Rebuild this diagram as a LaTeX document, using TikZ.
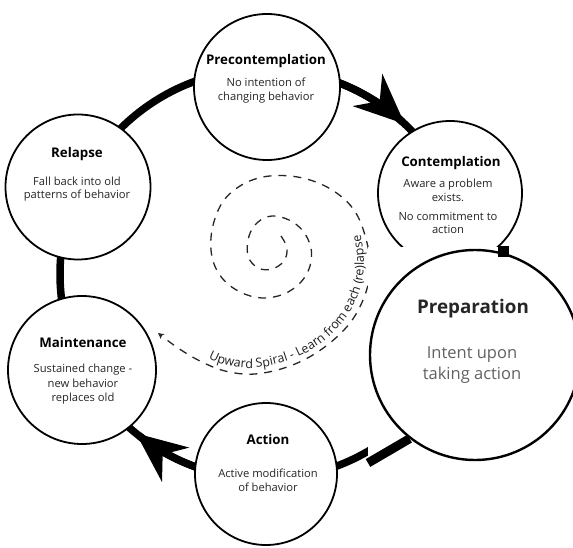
\documentclass[tikz,border=0pt]{standalone}
\usepackage{fontspec}
\setmainfont{Open Sans}
\usetikzlibrary{arrows.meta,bending,decorations.text}
\begin{document}
\begin{tikzpicture}[x=1pt,y=-1pt,
  stage/.style={circle, draw=black, line width=1.8pt, fill=white, inner sep=0pt},
  ttl/.style={anchor=base, text=black, font=\fontsize{13.3}{16}\selectfont\bfseries},
  bdy/.style={anchor=base, text=black!85, font=\fontsize{11.2}{13}\selectfont},
  ringline/.style={line width=7.5pt, draw=black},
  bigarrow/.style={ringline, -{Stealth[length=50pt,width=43pt,inset=16pt,flex]}},
  spiral/.style={line width=1.3pt, draw=black!85, dash pattern=on 8pt off 7pt},
  pttl/.style={anchor=base, text=black!85, font=\fontsize{18.8}{22}\selectfont\bfseries},
  pbdy/.style={anchor=base, text=black!62, font=\fontsize{16.5}{20}\selectfont},
  patchline/.style={line width=9pt, draw=black}]
\useasboundingbox (0,0) rectangle (573,548);
\clip (0,0) rectangle (573,548);
\fill[white] (0,0) rectangle (573,548);
% main ring
\coordinate (ringc) at (265,274);
\draw[ringline] (ringc) circle[radius=205];
\draw[bigarrow] plot[domain=290:313, samples=24] ({265+205*cos(\x)}, {274+205*sin(\x)});
\draw[bigarrow] plot[domain=105:129, samples=24] ({265+205*cos(\x)}, {274+205*sin(\x)});
% stage circles
\node[stage, minimum size=146pt] (pre) at (267,87) {};
\node[stage, minimum size=144pt] (con) at (450,193) {};
\node[stage, minimum size=145pt] (rel) at (78,187) {};
\node[stage, minimum size=148pt] (mai) at (82,370) {};
\node[stage, minimum size=142pt] (act) at (266,474) {};
% texts
\node[ttl] (preT) at (266,65) {Precontemplation};
\node[bdy] (preB1) at (266,87) {No intention of};
\node[bdy] (preB2) at (266,101) {changing behavior};
\node[ttl] (conT) at (451,167) {Contemplation};
\node[bdy] (conB1) at (448,188) {Aware a problem};
\node[bdy] (conB2) at (448,202) {exists.};
\node[bdy] (conB3) at (448,221) {No commitment to};
\node[bdy] (conB4) at (448,234) {action};
\node[ttl] (relT) at (77,158) {Relapse};
\node[bdy] (relB1) at (77,186) {Fall back into old};
\node[bdy] (relB2) at (77,199) {patterns of behavior};
\node[ttl] (maiT) at (83,347) {Maintenance};
\node[bdy] (maiB1) at (83,372) {Sustained change -};
\node[bdy] (maiB2) at (83,387) {new behavior};
\node[bdy] (maiB3) at (83,401) {replaces old};
\node[ttl] (actT) at (268,444) {Action};
\node[bdy] (actB1) at (268,477) {Active modification};
\node[bdy] (actB2) at (268,491) {of behavior};
% spiral
\draw[spiral, -{Stealth[length=6pt,width=6pt]}] plot[smooth, tension=0.6] coordinates {
 (281,236) (287,248) (284,261) (272,269) (258,268) (248,256) (249,236) (258,222)
 (272,216) (289,220) (303,231) (311,248) (310,266) (301,282) (284,294) (262,298)
 (240,292) (222,278) (212,257) (212,230) (222,203) (240,186) (263,177) (290,176)
 (316,182) (338,194) (354,210) (364,232) (370,262) (366,292) (350,323) (322,349)
 (290,366) (255,374) (225,371) (200,361) (178,348) (158,333)};
\path[decorate, decoration={text along path,
   text={|\fontsize{12.5}{15}\selectfont|Upward Spiral - Learn from each (re)lapse},
   text align=center, text color=black!88}]
 plot[smooth, tension=0.6] coordinates {(192,350) (205,357) (225,365) (255,368) (290,360)
 (320,344) (345,319) (360,290) (364,262) (360,232) (354,218)};
% pasted preparation patch
\fill[white] (368,247) rectangle (573,468);
\node[stage, line width=2.4pt, minimum size=210pt] (prep) at (475,355) {};
\coordinate (stubA) at (503,246);
\coordinate (stubB) at (503,257);
\draw[patchline, line width=11pt] (stubA) -- (stubB);
\coordinate (plA) at (368,463);
\draw[patchline] (plA) -- (prep.232);
\node[pttl] (prepT) at (473,313) {Preparation};
\node[pbdy] (prepB1) at (472,358) {Intent upon};
\node[pbdy] (prepB2) at (472,379) {taking action};
\end{tikzpicture}
\end{document}
